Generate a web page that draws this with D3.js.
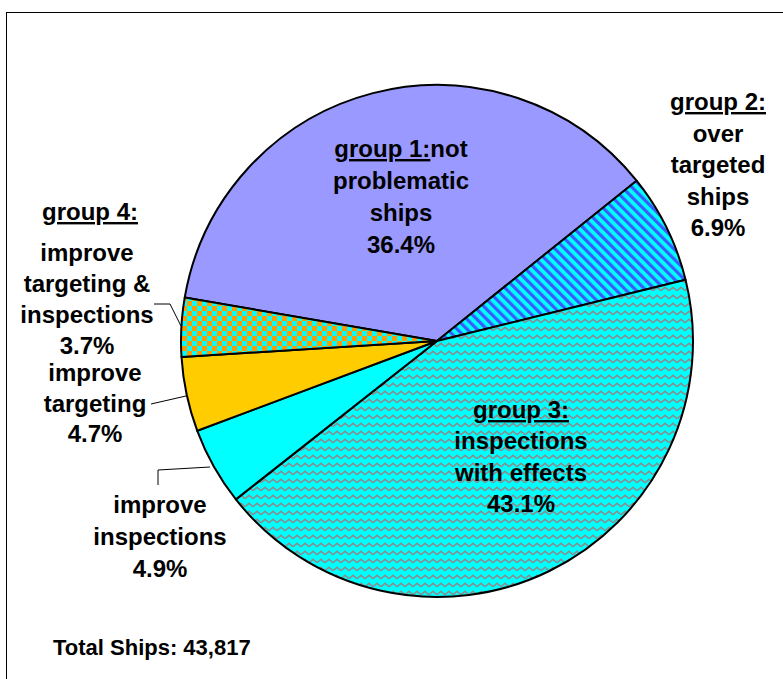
<!DOCTYPE html>
<html>
<head>
<meta charset="utf-8">
<script src="https://cdn.jsdelivr.net/npm/d3@7"></script>
<style>
  html, body { margin: 0; padding: 0; background: #fff; }
  svg { display: block; }
  text { font-family: "Liberation Sans", Arial, sans-serif; font-weight: bold; fill: #000; }
</style>
</head>
<body>
<svg id="chart" width="783" height="679"></svg>
<script>
// ---- data ----
const categories = [
  "group 1: not problematic ships",
  "group 2: over targeted ships",
  "group 3: inspections with effects",
  "improve inspections",
  "improve targeting",
  "improve targeting & inspections"
];
const shares = [36.4, 6.9, 43.1, 4.9, 4.7, 3.7];
const percentLabels = ["36.4%", "6.9%", "43.1%", "4.9%", "4.7%", "3.7%"];
const totalShips = "43,817";

// ---- layout ----
const W = 783, H = 679;
const cx = 437, cy = 341, R = 256;
const startDeg = -80.2;

const svg = d3.select("#chart");
const defs = svg.append("defs");

// stripes (group 2)
const pStripe = defs.append("pattern").attr("id", "stripes")
  .attr("patternUnits", "userSpaceOnUse").attr("width", 7).attr("height", 7)
  .attr("patternTransform", "rotate(-45)");
pStripe.append("rect").attr("width", 7).attr("height", 7).attr("fill", "#00FFFF");
pStripe.append("rect").attr("width", 3.2).attr("height", 7).attr("fill", "#3A5CFF");

// zigzag (group 3)
const pZig = defs.append("pattern").attr("id", "zigzag")
  .attr("patternUnits", "userSpaceOnUse").attr("width", 8).attr("height", 8);
pZig.append("rect").attr("width", 8).attr("height", 8).attr("fill", "#00FFFF");
pZig.append("path").attr("d", "M0,5.7 L4,2.3 L8,5.7")
  .attr("fill", "none").attr("stroke", "#8C8C8C").attr("stroke-width", 1.6);

// checker (improve targeting & inspections)
const pCheck = defs.append("pattern").attr("id", "checker")
  .attr("patternUnits", "userSpaceOnUse").attr("width", 10).attr("height", 10);
pCheck.append("rect").attr("width", 10).attr("height", 10).attr("fill", "#00FFFF");
pCheck.append("rect").attr("width", 5).attr("height", 5).attr("fill", "#FF9900");
pCheck.append("rect").attr("x", 5).attr("y", 5).attr("width", 5).attr("height", 5).attr("fill", "#FF9900");

const fills = ["#9999FF", "url(#stripes)", "url(#zigzag)", "#00FFFF", "#FFCC00", "url(#checker)"];

// frame
svg.append("rect").attr("x", 6.5).attr("y", 12.5).attr("width", 800).attr("height", 700)
  .attr("fill", "#fff").attr("stroke", "#000").attr("stroke-width", 1);

// pie
const a0 = startDeg * Math.PI / 180;
const pie = d3.pie().sort(null).value(d => d).startAngle(a0).endAngle(a0 + 2 * Math.PI);
const arc = d3.arc().innerRadius(0).outerRadius(R);
const g = svg.append("g").attr("transform", `translate(${cx},${cy})`);
g.selectAll("path.slice").data(pie(shares)).join("path")
  .attr("class", "slice")
  .attr("d", arc)
  .attr("fill", (d, i) => fills[i])
  .attr("stroke", "#000").attr("stroke-width", 2).attr("stroke-linejoin", "round");

// leader lines
const leaders = [
  [[154, 304], [170, 304], [181, 326]],
  [[151, 404], [186, 396]],
  [[158, 485], [158, 470], [210, 467]]
];
svg.selectAll("path.leader").data(leaders).join("path")
  .attr("class", "leader")
  .attr("d", d => d3.line()(d))
  .attr("fill", "none").attr("stroke", "#000").attr("stroke-width", 1);

// labels
function label(x, y0, step, lines) {
  const t = svg.append("text").attr("text-anchor", "middle").attr("font-size", 24);
  lines.forEach((ln, k) => {
    const line = t.append("tspan").attr("x", x).attr("y", y0 + k * step);
    if (Array.isArray(ln)) {
      line.append("tspan").attr("text-decoration", "underline").text(ln[0]);
      if (ln[1]) line.append("tspan").text(ln[1]);
    } else {
      line.text(ln);
    }
  });
}

label(401, 157, 32, [["group 1:", "not"], "problematic", "ships", percentLabels[0]]);
label(718, 110, 31.5, [["group 2:"], "over", "targeted", "ships", percentLabels[1]]);
label(521, 418, 31.3, [["group 3:"], "inspections", "with effects", percentLabels[2]]);
label(90, 220, 31.5, [["group 4:"]]);
label(87, 261, 31, ["improve", "targeting &", "inspections", percentLabels[5]]);
label(95, 381, 30.5, ["improve", "targeting", percentLabels[4]]);
label(160, 513, 32, ["improve", "inspections", percentLabels[3]]);

svg.append("text").attr("x", 53).attr("y", 655).attr("font-size", 22)
  .text("Total Ships: " + totalShips);
</script>
</body>
</html>
